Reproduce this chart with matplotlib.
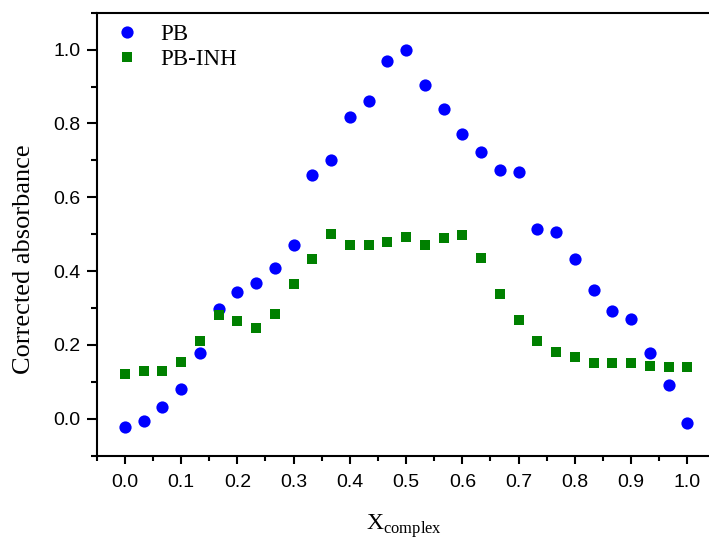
import numpy as np
import matplotlib
matplotlib.use("Agg")
import matplotlib.pyplot as plt
from matplotlib.ticker import MultipleLocator

# Mole fraction of complex (31 points, 0 to 1)
x_complex = np.linspace(0.0, 1.0, 31)

pb = [-0.021, -0.007, 0.032, 0.081, 0.179, 0.296, 0.344, 0.369, 0.408, 0.472,
      0.661, 0.700, 0.817, 0.862, 0.968, 1.000, 0.903, 0.838, 0.770, 0.723,
      0.673, 0.668, 0.514, 0.506, 0.432, 0.348, 0.292, 0.270, 0.178, 0.091,
      -0.012]

pb_inh = [0.121, 0.128, 0.128, 0.154, 0.210, 0.281, 0.265, 0.245, 0.284, 0.364,
          0.432, 0.501, 0.472, 0.472, 0.478, 0.492, 0.471, 0.489, 0.499, 0.435,
          0.339, 0.267, 0.210, 0.180, 0.168, 0.151, 0.150, 0.151, 0.144, 0.141,
          0.140]

x_ticks = [0.0, 0.1, 0.2, 0.3, 0.4, 0.5, 0.6, 0.7, 0.8, 0.9, 1.0]
y_ticks = [0.0, 0.2, 0.4, 0.6, 0.8, 1.0]

plt.rcParams["mathtext.fontset"] = "custom"
plt.rcParams["mathtext.rm"] = "Liberation Serif"

fig = plt.figure(figsize=(7.09, 5.39), dpi=100)
ax = fig.add_axes([0.1364, 0.1546, 0.8728, 0.8219])

ax.plot(x_complex, pb, linestyle="none", marker="o", markersize=8.8,
        color="#0000FF", markeredgewidth=0, label="PB")
ax.plot(x_complex, pb_inh, linestyle="none", marker="s", markersize=7.6,
        color="#008000", markeredgewidth=0, label="PB-INH")

ax.set_xlim(-0.05, 1.05)
ax.set_ylim(-0.1, 1.1)
ax.set_xticks(x_ticks)
ax.set_yticks(y_ticks)
ax.set_xticklabels([f"{v:.1f}" for v in x_ticks])
ax.set_yticklabels([f"{v:.1f}" for v in y_ticks])
ax.xaxis.set_minor_locator(MultipleLocator(0.05))
ax.yaxis.set_minor_locator(MultipleLocator(0.1))

for side in ["left", "bottom", "top"]:
    ax.spines[side].set_linewidth(1.5)
ax.spines["right"].set_visible(False)

ax.tick_params(axis="both", which="both", direction="out", width=1.5,
               labelsize=14, top=False, right=False)
for lab in ax.get_xticklabels() + ax.get_yticklabels():
    lab.set_family("Liberation Sans")
ax.tick_params(axis="y", which="major", length=7.5, pad=4)
ax.tick_params(axis="y", which="minor", length=4.5)
ax.tick_params(axis="x", which="major", length=5.5, pad=8)
ax.tick_params(axis="x", which="minor", length=3.5)

ax.set_ylabel("Corrected absorbance", family="Liberation Serif", fontsize=19,
              va="center")
ax.yaxis.set_label_coords(-0.118, 0.444)
ax.set_xlabel(r"$\mathrm{X}_{\mathrm{complex}}$", fontsize=17, va="center")
ax.xaxis.set_label_coords(0.497, -0.158)

ax.legend(loc="upper left", bbox_to_anchor=(0.005, 1.01), frameon=False,
          prop={"family": "Liberation Serif", "size": 16.5}, numpoints=1,
          handlelength=1.0, handletextpad=0.95, labelspacing=0.15,
          borderaxespad=0.3)

fig.savefig("out.png", dpi=100)
